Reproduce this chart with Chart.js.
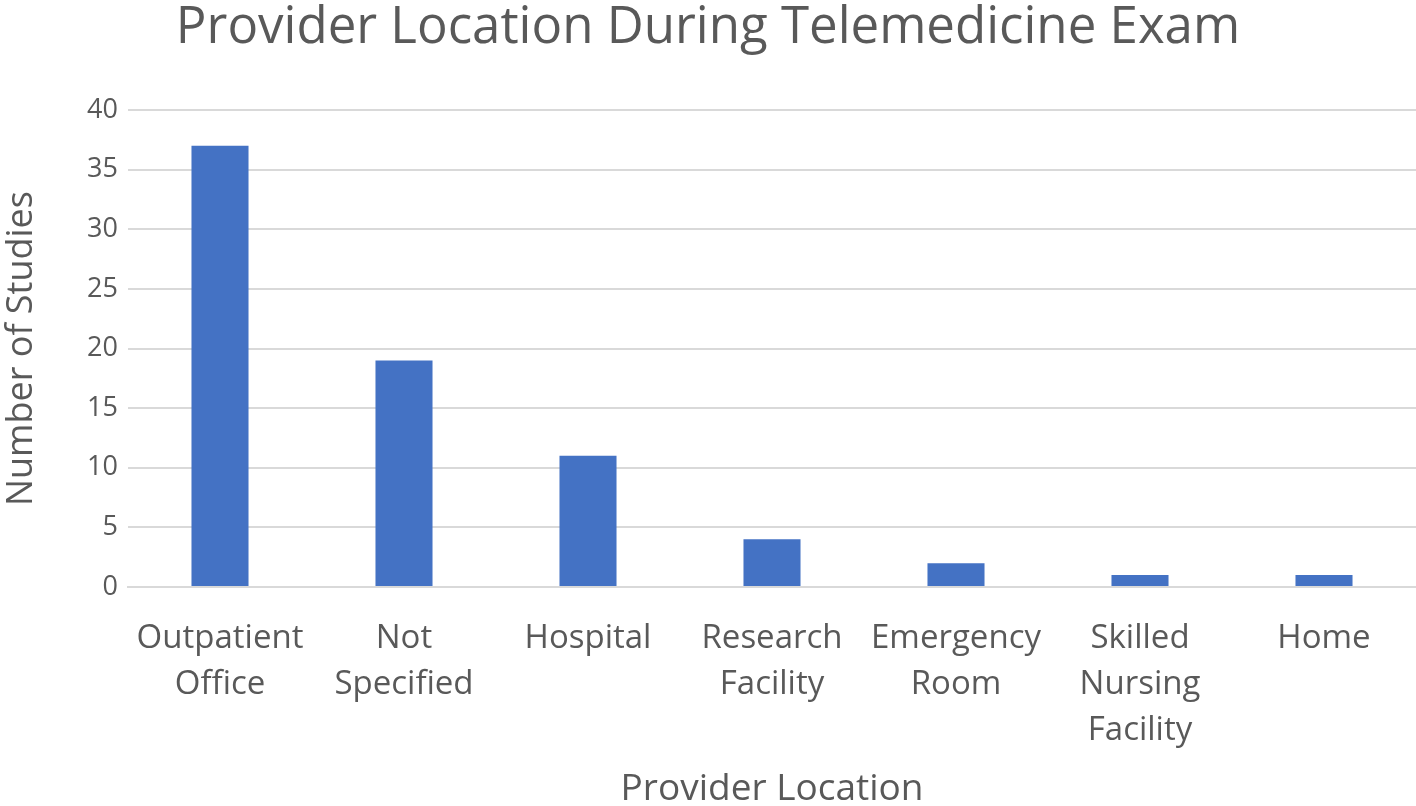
<!DOCTYPE html>
<html>
<head>
<meta charset="utf-8">
<script src="https://cdn.jsdelivr.net/npm/chart.js@4.4.1/dist/chart.umd.min.js"></script>
<style>
html,body{margin:0;padding:0;background:#fff;}
#wrap{width:1416px;height:806px;position:relative;}
</style>
</head>
<body>
<div id="wrap"><canvas id="c" width="1416" height="806"></canvas></div>
<script>
const categories = [
  ["Outpatient", "Office"],
  ["Not", "Specified"],
  ["Hospital"],
  ["Research", "Facility"],
  ["Emergency", "Room"],
  ["Skilled", "Nursing", "Facility"],
  ["Home"]
];
const studyCounts = [37, 19, 11, 4, 2, 1, 1];
const yTicks = [0, 5, 10, 15, 20, 25, 30, 35, 40];

const FONT = "'Open Sans', sans-serif";
const TXT = '#595959';

new Chart(document.getElementById('c'), {
  type: 'bar',
  data: {
    labels: categories,
    datasets: [{
      data: studyCounts,
      backgroundColor: '#4472C4',
      borderWidth: 0,
      barPercentage: 0.31,
      categoryPercentage: 1.0
    }]
  },
  options: {
    responsive: false,
    animation: false,
    layout: { padding: { left: 0, right: 0, top: 0, bottom: 0 } },
    plugins: {
      legend: { display: false },
      tooltip: { enabled: false },
      title: {
        display: true,
        text: 'Provider Location During Telemedicine Exam',
        color: TXT,
        font: { family: FONT, size: 51, weight: 'normal', lineHeight: 1.1 },
        padding: { top: 0, bottom: 54 }
      }
    },
    scales: {
      x: {
        grid: { display: false, drawTicks: false },
        border: { display: true, color: '#d9d9d9', width: 2 },
        ticks: {
          color: TXT,
          font: { family: FONT, size: 33, lineHeight: 1.4 },
          padding: 28,
          maxRotation: 0,
          autoSkip: false
        },
        title: {
          display: true,
          text: 'Provider Location',
          color: TXT,
          font: { family: FONT, size: 37, lineHeight: 0.9 },
          padding: { top: 0, bottom: 0 }
        },
        afterFit: (s) => { s.height = 219; }
      },
      y: {
        min: 0,
        max: 40,
        afterBuildTicks: (s) => { s.ticks = yTicks.map(v => ({ value: v })); },
        grid: { color: '#d9d9d9', lineWidth: 2, drawTicks: false },
        border: { display: false },
        ticks: {
          color: TXT,
          font: { family: FONT, size: 27 },
          padding: 10
        },
        title: {
          display: true,
          text: 'Number of Studies',
          color: TXT,
          font: { family: FONT, size: 36 },
          padding: { top: 0, bottom: 0 }
        },
        afterFit: (s) => { s.width = 128; }
      }
    }
  }
});
</script>
</body>
</html>
